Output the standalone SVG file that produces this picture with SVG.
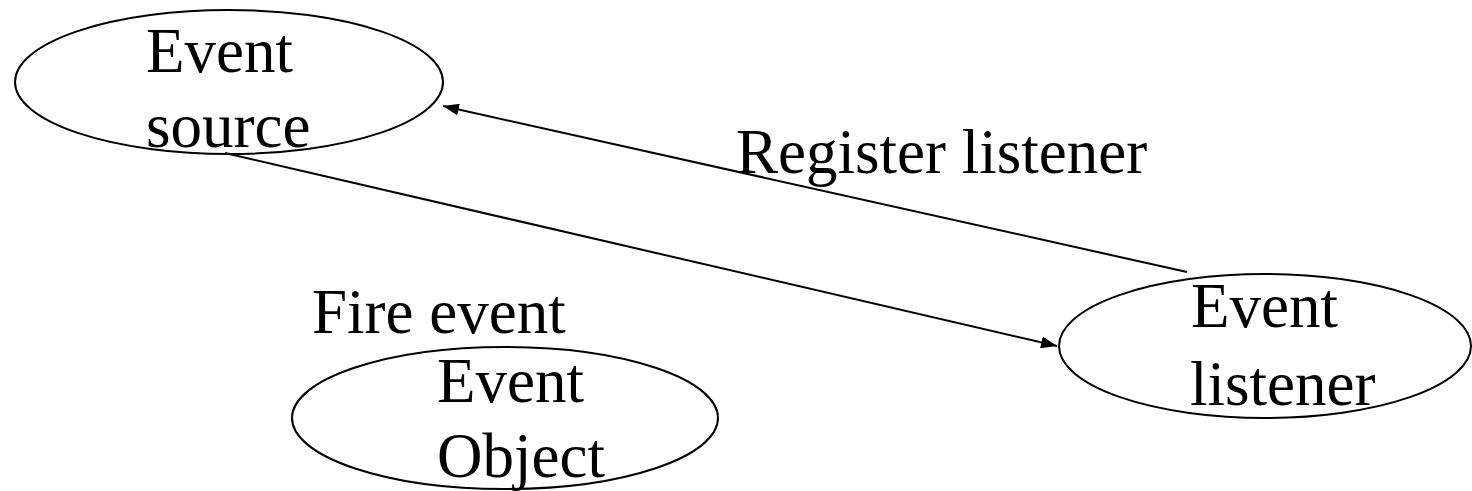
<svg xmlns="http://www.w3.org/2000/svg" width="1472" height="491" viewBox="0 0 1472 491">
<style>
.node ellipse{fill:#fff;stroke:#000;stroke-width:2}
text{font-family:"Liberation Serif","Times New Roman",serif;font-size:63px;fill:#000}
.edge{stroke:#000;stroke-width:2;fill:none}
</style>
<defs>
<marker id="arr" viewBox="0 0 16 12" refX="16" refY="6" markerWidth="16" markerHeight="12" markerUnits="userSpaceOnUse" orient="auto">
<path d="M0,0 L16,6 L0,12 Z" fill="#000"/>
</marker>
</defs>
<rect width="1472" height="491" fill="#fff"/>
<g id="source" class="node">
<ellipse cx="229" cy="82" rx="214" ry="72"/>
<text x="146" y="72">Event</text>
<text x="146" y="147">source</text>
</g>
<g id="listener" class="node">
<ellipse cx="1265" cy="346" rx="206" ry="72"/>
<text x="1191" y="327">Event</text>
<text x="1190" y="405">listener</text>
</g>
<g id="object" class="node">
<ellipse cx="505" cy="418" rx="213" ry="71"/>
<text x="437" y="402">Event</text>
<text x="437" y="477">Object</text>
</g>
<g id="connectors">
<line class="edge" x1="225" y1="153" x2="1057" y2="346" marker-end="url(#arr)"/>
<line class="edge" x1="1187" y1="272" x2="443" y2="106" marker-end="url(#arr)"/>
</g>
<g id="labels">
<text x="736" y="173">Register listener</text>
<text x="312" y="333">Fire event</text>
</g>
</svg>
